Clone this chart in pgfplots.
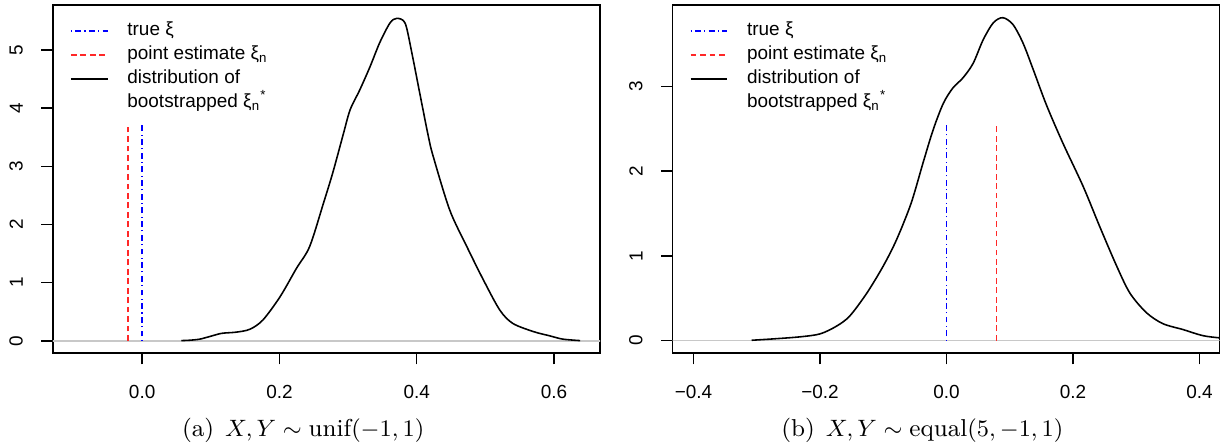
\documentclass[border=0pt]{standalone}
\usepackage{pgfplots}
\pgfplotsset{compat=1.18}
\usepackage{fontspec}
\newfontfamily\rfont{Liberation Sans}
\definecolor{rgray}{RGB}{200,200,200}
\definecolor{rred}{RGB}{255,40,40}
\newcommand{\rl}[1]{\rotatebox{90}{#1}}
\pgfplotsset{
  rstyle/.style={
    scale only axis, width=207.9pt, height=132.2pt,
    axis line style={line width=0.55pt},
    every tick/.style={black, line width=0.55pt},
    major tick length=4.4pt, tick align=outside,
    xtick pos=bottom, ytick pos=left,
    tick label style={font=\rfont\fontsize{7.2}{8.6}\selectfont},
    xticklabel style={anchor=center, yshift=-10.3pt},
    yticklabel style={anchor=east, inner sep=0pt, xshift=-6.8pt},
    legend style={at={(axis description cs:0.0313,0.9508)}, anchor=north west,
      draw=none, fill=none, inner sep=0pt, outer sep=0pt,
      row sep=2.4pt, column sep=7.2pt,
      font=\rfont\fontsize{7.2}{8.6}\selectfont,
      nodes={inner sep=0pt, text height=5.2pt, text depth=1.5pt}},
    legend cell align=left,
    legend image code/.code={\draw[##1] (0pt,0pt) -- (14pt,0pt);},
    clip=true,
  },
  bluel/.style={blue, line width=0.55pt, dash pattern=on 0.4pt off 1.3pt on 2.2pt off 1.3pt},
  redl/.style={rred, line width=0.6pt, dash pattern=on 2.2pt off 1.4pt},
  curvel/.style={black, line width=0.6pt, smooth, tension=0.5},
}
\begin{document}
\begin{tikzpicture}
\path[use as bounding box] (-20.1pt,-36.1pt) rectangle (445.4pt,134.1pt);
% ---------- left panel ----------
\begin{axis}[rstyle, at={(0pt,0pt)}, anchor=south west,
  xmin=-0.130, xmax=0.667, ymin=-0.206, ymax=5.77,
  xtick={0,0.2,0.4,0.6}, xticklabels={0.0,0.2,0.4,0.6},
  ytick={0,1,2,3,4,5}, yticklabels={\rl{0},\rl{1},\rl{2},\rl{3},\rl{4},\rl{5}}]
\addlegendimage{bluel}
\addlegendentry{true ξ}
\addlegendimage{redl}
\addlegendentry{point estimate ξ\textsubscript{n}}
\addlegendimage{black, line width=0.6pt}
\addlegendentry{distribution of}
\addlegendimage{empty legend}
\addlegendentry{bootstrapped ξ\textsubscript{n}\textsuperscript{*}}
\addplot[rgray, line width=0.55pt, forget plot] coordinates {(-1,0) (1,0)};
\addplot[redl, forget plot] coordinates {(-0.021,0) (-0.021,3.71)};
\addplot[bluel, forget plot] coordinates {(0,0) (0,3.71)};
\addplot[curvel, forget plot] table {
0.057 0.005
0.070 0.012
0.084 0.03
0.100 0.08
0.116 0.13
0.137 0.15
0.157 0.20
0.176 0.36
0.201 0.76
0.225 1.25
0.244 1.62
0.264 2.36
0.278 2.90
0.293 3.55
0.303 3.97
0.317 4.31
0.332 4.71
0.346 5.12
0.361 5.46
0.371 5.54
0.383 5.46
0.392 5.00
0.405 4.22
0.417 3.51
0.424 3.17
0.448 2.25
0.473 1.62
0.497 1.05
0.521 0.53
0.540 0.30
0.570 0.16
0.594 0.086
0.613 0.03
0.638 0.005
};
\end{axis}
\node[font=\fontsize{9.3}{11}\selectfont, anchor=center] at (95.1pt,-29.3pt)
  {(a)\hspace{0.45em}$X,Y \sim \mathrm{unif}(-1,1)$};
% ---------- right panel ----------
\begin{axis}[rstyle, at={(235.5pt,0pt)}, anchor=south west,
  xmin=-0.433, xmax=0.432, ymin=-0.145, ymax=3.96,
  xtick={-0.4,-0.2,0,0.2,0.4}, xticklabels={−0.4,−0.2,0.0,0.2,0.4},
  ytick={0,1,2,3}, yticklabels={\rl{0},\rl{1},\rl{2},\rl{3}}]
\addlegendimage{bluel}
\addlegendentry{true ξ}
\addlegendimage{redl}
\addlegendentry{point estimate ξ\textsubscript{n}}
\addlegendimage{black, line width=0.6pt}
\addlegendentry{distribution of}
\addlegendimage{empty legend}
\addlegendentry{bootstrapped ξ\textsubscript{n}\textsuperscript{*}}
\addplot[rgray, line width=0.55pt, forget plot] coordinates {(-1,0) (1,0)};
\addplot[bluel, forget plot] coordinates {(0,0) (0,2.55)};
\addplot[redl, forget plot] coordinates {(0.079,0) (0.079,2.55)};
\addplot[curvel, forget plot] table {
-0.308 0.004
-0.274 0.02
-0.232 0.044
-0.200 0.079
-0.174 0.17
-0.153 0.29
-0.126 0.56
-0.100 0.88
-0.079 1.19
-0.056 1.62
-0.037 2.10
-0.021 2.49
-0.005 2.80
0.010 2.98
0.026 3.10
0.042 3.27
0.058 3.55
0.074 3.75
0.089 3.81
0.105 3.73
0.121 3.51
0.137 3.20
0.158 2.78
0.184 2.33
0.216 1.82
0.242 1.35
0.269 0.88
0.290 0.56
0.316 0.33
0.342 0.20
0.374 0.13
0.405 0.059
0.432 0.032
0.460 0.015
};
\end{axis}
\node[font=\fontsize{9.3}{11}\selectfont, anchor=center] at (330.4pt,-29.3pt)
  {(b)\hspace{0.45em}$X,Y \sim \mathrm{equal}(5,-1,1)$};
\end{tikzpicture}
\end{document}
